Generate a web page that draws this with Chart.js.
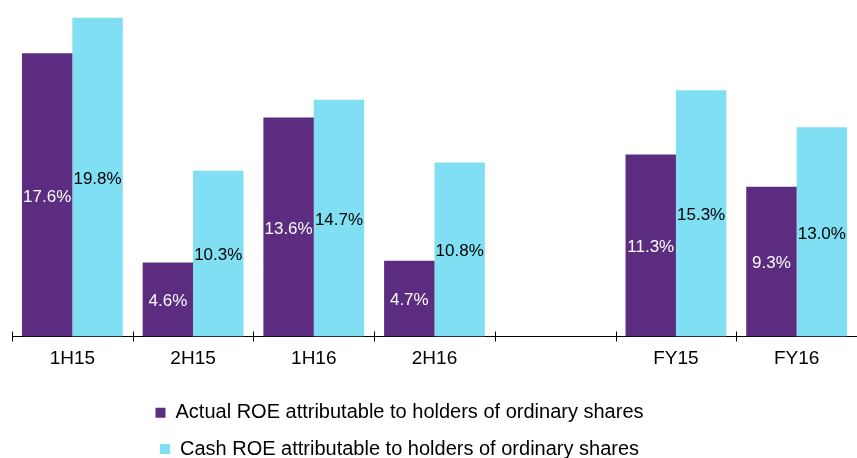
<!DOCTYPE html>
<html>
<head>
<meta charset="utf-8">
<script src="https://cdn.jsdelivr.net/npm/chart.js@4/dist/chart.umd.min.js"></script>
<style>
  html, body { margin: 0; padding: 0; background: #fff; }
  #wrap { width: 857px; height: 458px; }
</style>
</head>
<body>
<div id="wrap"><canvas id="roeChart"></canvas></div>
<script>
"use strict";
const periods = ["1H15", "2H15", "1H16", "2H16", "", "FY15", "FY16"];
const actualRoe = [17.6, 4.6, 13.6, 4.7, null, 11.3, 9.3];
const cashRoe = [19.8, 10.3, 14.7, 10.8, null, 15.3, 13.0];
const seriesNames = [
  "Actual ROE attributable to holders of ordinary shares",
  "Cash ROE attributable to holders of ordinary shares",
];

const fontFamily = "Arial, 'Liberation Sans', sans-serif";

// values written in the middle of each bar
const barLabels = {
  id: "barLabels",
  afterDatasetsDraw(chart) {
    const ctx = chart.ctx;
    ctx.save();
    ctx.font = `17px ${fontFamily}`;
    ctx.textAlign = "center";
    ctx.textBaseline = "middle";
    chart.data.datasets.forEach((ds, i) => {
      ctx.fillStyle = i === 0 ? "#FFFFFF" : "#000000";
      chart.getDatasetMeta(i).data.forEach((bar, j) => {
        if (ds.data[j] == null) return;
        ctx.fillText(ds.data[j].toFixed(1) + "%", bar.x, (bar.y + bar.base) / 2 + 2);
      });
    });
    ctx.restore();
  },
};

// small tick marks crossing the axis at category boundaries
const boundaryTicks = {
  id: "boundaryTicks",
  afterDraw(chart) {
    const x = chart.scales.x;
    const ctx = chart.ctx;
    const step = (x.right - x.left) / periods.length;
    const y = chart.chartArea.bottom;
    ctx.save();
    ctx.strokeStyle = "#000";
    ctx.lineWidth = 1;
    for (let i = 0; i <= periods.length; i++) {
      const px = Math.round(x.left + i * step) + 0.5;
      ctx.beginPath();
      ctx.moveTo(px, y - 5);
      ctx.lineTo(px, y + 5);
      ctx.stroke();
    }
    ctx.restore();
  },
};

// legend sits a bit left of centre in the original
const legendShift = {
  id: "legendShift",
  afterLayout(chart) {
    if (chart.legend) chart.legend.right -= 72;
  },
};

const data = {
  labels: periods,
  datasets: [
    {
      label: seriesNames[0],
      data: actualRoe,
      backgroundColor: "#5B2C80",
      borderWidth: 0,
    },
    {
      label: seriesNames[1],
      data: cashRoe,
      backgroundColor: "#80DFF2",
      borderWidth: 0,
    },
  ],
};

const config = {
  type: "bar",
  data: data,
  options: {
    responsive: true,
    maintainAspectRatio: false,
    animation: false,
    datasets: {
      bar: { categoryPercentage: 0.835, barPercentage: 1.0 },
    },
    layout: {
      padding: { top: 0, left: 12, right: -2, bottom: -11 },
    },
    plugins: {
      tooltip: { enabled: false },
      legend: {
        display: true,
        position: "bottom",
        labels: {
          boxWidth: 10,
          boxHeight: 10,
          padding: 16.3,
          color: "#000",
          font: { family: fontFamily, size: 20 },
        },
      },
    },
    scales: {
      x: {
        grid: { display: false, drawTicks: false },
        border: { display: true, color: "#000", width: 1 },
        ticks: {
          color: "#000",
          padding: 10.5,
          font: { family: fontFamily, size: 19 },
          maxRotation: 0,
          autoSkip: false,
        },
        afterFit(scale) {
          scale.height += 6.1;
        },
      },
      y: {
        display: false,
        min: 0,
        max: 20.9,
      },
    },
  },
  plugins: [barLabels, boundaryTicks, legendShift],
};

const roeChart = new Chart(document.getElementById("roeChart"), config);
</script>
</body>
</html>
